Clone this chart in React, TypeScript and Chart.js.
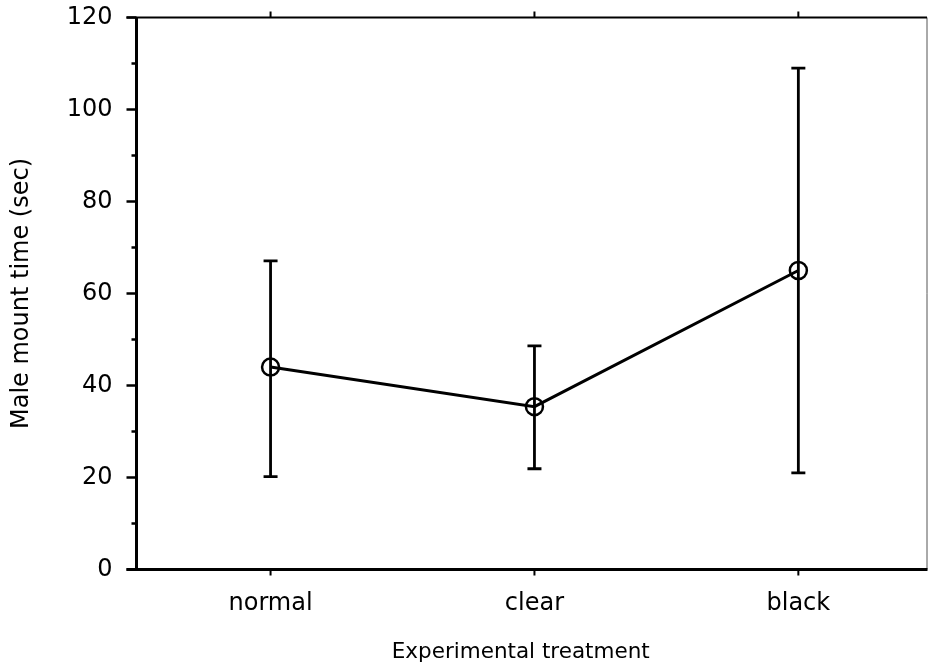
import React, { useEffect, useRef } from 'react';
import { Chart, registerables } from 'chart.js';

Chart.register(...registerables);

const categories = ['normal', 'clear', 'black'];
const positions = [1, 2, 3];
const means = [44, 35.4, 65];
const upper = [67.1, 48.6, 109];
const lower = [20.2, 21.9, 21];
const yMajorTicks = [0, 20, 40, 60, 80, 100, 120];
const yMinorTicks = [10, 30, 50, 70, 90, 110];
const xTitle = 'Experimental treatment';
const yTitle = 'Male mount time (sec)';

const FONT = 'DejaVu Sans';

const errorBarPlugin = {
  id: 'errorBars',
  beforeDatasetsDraw(chart: any) {
    const { ctx, scales } = chart;
    const xs = scales.x;
    const ys = scales.y;
    ctx.save();
    ctx.strokeStyle = '#000';
    ctx.lineWidth = 2.8;
    ctx.lineCap = 'butt';
    positions.forEach((p, i) => {
      const x = xs.getPixelForValue(p);
      const yTop = ys.getPixelForValue(upper[i]);
      const yBot = ys.getPixelForValue(lower[i]);
      const cap = 7;
      ctx.beginPath();
      ctx.moveTo(x, yTop);
      ctx.lineTo(x, yBot);
      ctx.moveTo(x - cap, yTop);
      ctx.lineTo(x + cap, yTop);
      ctx.moveTo(x - cap, yBot);
      ctx.lineTo(x + cap, yBot);
      ctx.stroke();
    });
    ctx.restore();
  },
};

const framePlugin = {
  id: 'frame',
  afterDraw(chart: any) {
    const { ctx, chartArea, scales } = chart;
    const { left, right, top, bottom } = chartArea;
    const xs = scales.x;
    const ys = scales.y;
    ctx.save();
    // right border (thin)
    ctx.lineWidth = 1;
    ctx.strokeStyle = '#555';
    ctx.beginPath();
    ctx.moveTo(right, top);
    ctx.lineTo(right, bottom);
    ctx.stroke();
    ctx.strokeStyle = '#000';
    // top border
    ctx.lineWidth = 2;
    ctx.beginPath();
    ctx.moveTo(left - 10, top);
    ctx.lineTo(right, top);
    ctx.stroke();
    // left and bottom axes
    ctx.lineWidth = 3;
    ctx.beginPath();
    ctx.moveTo(left, top);
    ctx.lineTo(left, bottom);
    ctx.moveTo(left - 10, bottom);
    ctx.lineTo(right + 0.5, bottom);
    ctx.stroke();
    // y ticks
    ctx.lineWidth = 2.5;
    ctx.beginPath();
    yMajorTicks.forEach((v) => {
      const y = ys.getPixelForValue(v);
      ctx.moveTo(left - 10, y);
      ctx.lineTo(left, y);
    });
    yMinorTicks.forEach((v) => {
      const y = ys.getPixelForValue(v);
      ctx.moveTo(left - 5, y);
      ctx.lineTo(left, y);
    });
    ctx.stroke();
    // x ticks bottom and top
    ctx.lineWidth = 2;
    ctx.beginPath();
    positions.forEach((p) => {
      const x = xs.getPixelForValue(p);
      ctx.moveTo(x, bottom);
      ctx.lineTo(x, bottom + 6);
      ctx.moveTo(x, top);
      ctx.lineTo(x, top - 6);
    });
    ctx.stroke();
    // x axis title
    ctx.fillStyle = '#000';
    ctx.font = `21.5px "${FONT}"`;
    ctx.textAlign = 'center';
    ctx.textBaseline = 'middle';
    ctx.fillText(xTitle, (left + right) / 2 - 11, 652);
    ctx.restore();
  },
};

export default function App() {
  const ref = useRef<HTMLCanvasElement>(null);

  useEffect(() => {
    document.body.style.margin = '0';
    const canvas = ref.current;
    if (!canvas) return;
    const chart = new Chart(canvas, {
      type: 'line',
      data: {
        datasets: [
          {
            data: positions.map((p, i) => ({ x: p, y: means[i] })),
            borderColor: '#000',
            borderWidth: 3,
            pointRadius: 8.5,
            pointBorderWidth: 2.5,
            pointBackgroundColor: 'rgba(0,0,0,0)',
            pointBorderColor: '#000',
            tension: 0,
            clip: false as any,
          },
        ],
      },
      options: {
        animation: false,
        responsive: false,
        devicePixelRatio: 1,
        layout: { autoPadding: false, padding: { top: 17.5, right: 2, left: 0, bottom: 0 } },
        plugins: {
          legend: { display: false },
          tooltip: { enabled: false },
        },
        scales: {
          x: {
            type: 'linear',
            min: 0.492,
            max: 3.4875,
            afterBuildTicks: (scale: any) => {
              scale.ticks = positions.map((v) => ({ value: v }));
            },
            afterFit: (scale: any) => {
              scale.height = 94.5;
              scale.paddingLeft = 0;
              scale.paddingRight = 0;
              scale.paddingTop = 0;
              scale.paddingBottom = 0;
            },
            grid: { display: false, drawTicks: false },
            border: { display: false },
            ticks: {
              autoSkip: false,
              maxRotation: 0,
              color: '#000',
              padding: 20,
              font: { family: FONT, size: 24 },
              callback: (v: any) => {
                const i = positions.indexOf(Number(v));
                return i >= 0 ? categories[i] : '';
              },
            },
            title: { display: false },
          },
          y: {
            type: 'linear',
            min: 0,
            max: 120,
            afterBuildTicks: (scale: any) => {
              scale.ticks = yMajorTicks.map((v) => ({ value: v }));
            },
            afterFit: (scale: any) => {
              scale.width = 136.5;
              scale.paddingLeft = 0;
              scale.paddingRight = 0;
              scale.paddingTop = 0;
              scale.paddingBottom = 0;
            },
            grid: { display: false, drawTicks: false },
            border: { display: false },
            ticks: {
              color: '#000',
              padding: 24,
              font: { family: FONT, size: 24 },
            },
            title: {
              display: true,
              text: yTitle,
              color: '#000',
              font: { family: FONT, size: 24 },
              padding: { top: 7, bottom: 0 },
            },
          },
        },
      },
      plugins: [errorBarPlugin, framePlugin],
    });
    return () => chart.destroy();
  }, []);

  return (
    <div style={{ width: 929, height: 664 }}>
      <canvas ref={ref} width={929} height={664} style={{ display: 'block' }} />
    </div>
  );
}
